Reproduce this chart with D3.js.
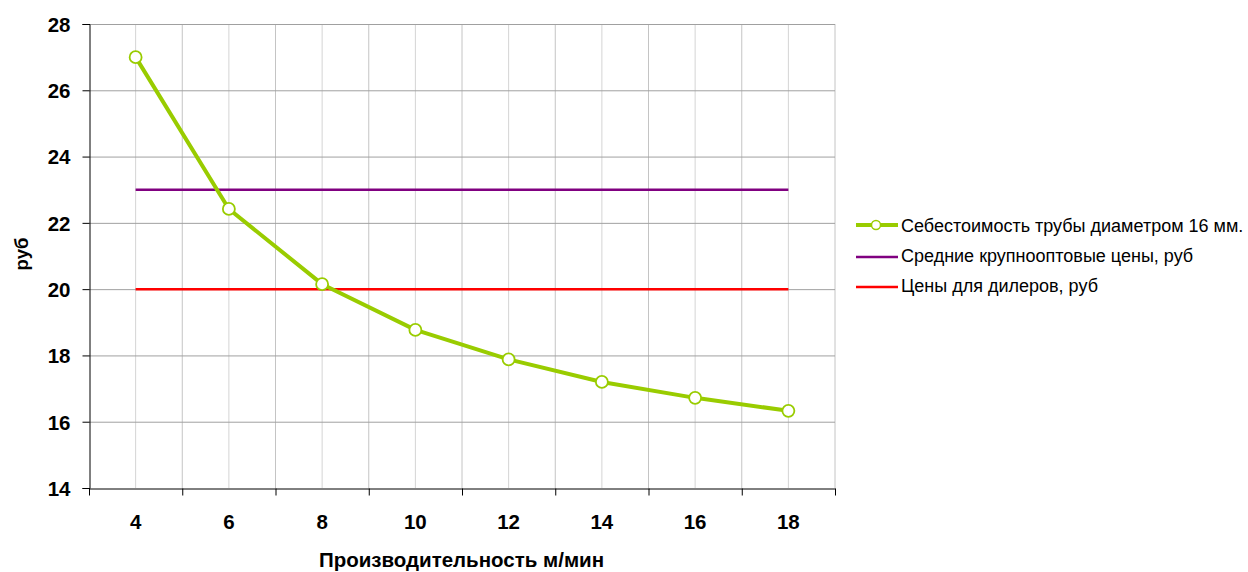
<!DOCTYPE html>
<html>
<head>
<meta charset="utf-8">
<script src="https://cdn.jsdelivr.net/npm/d3@7/dist/d3.min.js"></script>
<style>
  html, body { margin: 0; padding: 0; background: #fff; }
  svg { display: block; font-family: "Liberation Sans", Arial, sans-serif; }
</style>
</head>
<body>
<svg id="chart" width="1248" height="572"></svg>
<script>
// Производительность линии, м/мин
const categories = [4, 6, 8, 10, 12, 14, 16, 18];
// Себестоимость трубы диаметром 16 мм., руб
const costValues = [27.0, 22.42, 20.15, 18.77, 17.88, 17.2, 16.72, 16.33];
// Средние крупнооптовые цены, руб
const wholesaleValues = [23, 23, 23, 23, 23, 23, 23, 23];
// Цены для дилеров, руб
const dealerValues = [20, 20, 20, 20, 20, 20, 20, 20];
const yTicks = [14, 16, 18, 20, 22, 24, 26, 28];

const seriesNames = [
  "Себестоимость трубы диаметром 16 мм.",
  "Средние крупнооптовые цены, руб",
  "Цены для дилеров, руб"
];
const colors = { cost: "#99cc00", wholesale: "#800080", dealer: "#ff0000" };

const svg = d3.select("#chart");
const plot = { left: 89, top: 24, right: 835, bottom: 488 };
const FONT = "Liberation Sans, Arial, sans-serif";

const x = d3.scaleBand().domain(categories).range([plot.left, plot.right]).paddingInner(0).paddingOuter(0);
const cx = d => x(d) + x.bandwidth() / 2;
const bx = d => x(d) + x.bandwidth();
const y = d3.scaleLinear().domain([14, 28]).range([plot.bottom, plot.top]);

// vertical grid: at category centers and boundaries
const g = svg.append("g");
g.selectAll("line.vc").data(categories).join("line")
  .attr("x1", d => cx(d)).attr("x2", d => cx(d))
  .attr("y1", plot.top).attr("y2", plot.bottom)
  .attr("stroke", "#d4d4d4").attr("stroke-width", 1);
g.selectAll("line.vb").data(categories).join("line")
  .attr("x1", d => bx(d)).attr("x2", d => bx(d))
  .attr("y1", plot.top).attr("y2", plot.bottom)
  .attr("stroke", "#c4c4c4").attr("stroke-width", 1);

// horizontal grid
g.selectAll("line.h").data(yTicks.slice(1)).join("line")
  .attr("x1", plot.left).attr("x2", plot.right)
  .attr("y1", d => y(d) + 0.5).attr("y2", d => y(d) + 0.5)
  .attr("stroke", "#a0a0a0").attr("stroke-width", 1);

// y axis
const yAxis = svg.append("g").attr("transform", `translate(${plot.left + 0.5},0)`)
  .call(d3.axisLeft(y).tickValues(yTicks).tickSize(7).tickPadding(12).tickFormat(d3.format("d")));
yAxis.select(".domain").attr("stroke", "#000");
yAxis.selectAll(".tick line").attr("stroke", "#000");
yAxis.selectAll("text").attr("font-size", 20.5).attr("font-weight", "bold").attr("fill", "#000")
  .attr("font-family", FONT).attr("dy", "0.36em");

// x axis
const xAxis = svg.append("g").attr("transform", `translate(0,${plot.bottom + 0.5})`)
  .call(d3.axisBottom(x).tickSize(0).tickPadding(26));
xAxis.select(".domain").attr("stroke", "#000");
xAxis.selectAll("text").attr("font-size", 20.5).attr("font-weight", "bold").attr("fill", "#000")
  .attr("font-family", FONT);
// tick marks on category boundaries
xAxis.selectAll("line.bt").data([plot.left].concat(categories.map(bx))).join("line")
  .attr("class", "bt")
  .attr("x1", d => d + 0.5).attr("x2", d => d + 0.5)
  .attr("y1", 0).attr("y2", 7).attr("stroke", "#000");

// flat price lines
const valueLine = d3.line().x((d, i) => cx(categories[i])).y(d => y(d));
svg.append("path").datum(wholesaleValues).attr("d", valueLine)
  .attr("fill", "none").attr("stroke", colors.wholesale).attr("stroke-width", 2.5);
svg.append("path").datum(dealerValues).attr("d", valueLine)
  .attr("fill", "none").attr("stroke", colors.dealer).attr("stroke-width", 2.5);

// cost curve
svg.append("path").datum(costValues).attr("d", valueLine)
  .attr("fill", "none").attr("stroke", colors.cost).attr("stroke-width", 4).attr("stroke-linejoin", "round");
svg.selectAll("circle.pt").data(costValues).join("circle")
  .attr("class", "pt")
  .attr("cx", (d, i) => cx(categories[i])).attr("cy", d => y(d)).attr("r", 6)
  .attr("fill", "#fff").attr("stroke", colors.cost).attr("stroke-width", 1.8);

// axis titles
svg.append("text").attr("x", 461.5).attr("y", 567).attr("text-anchor", "middle")
  .attr("font-size", 20.5).attr("font-weight", "bold").text("Производительность м/мин");
svg.append("text").attr("transform", "translate(28,254) rotate(-90)").attr("text-anchor", "middle")
  .attr("font-size", 18.5).attr("font-weight", "bold").text("руб");

// legend
const legend = svg.append("g").attr("transform", "translate(856,0)");
const rows = [
  { name: seriesNames[0], color: colors.cost, marker: true, y: 225, base: 231.7 },
  { name: seriesNames[1], color: colors.wholesale, marker: false, y: 257, base: 261.7 },
  { name: seriesNames[2], color: colors.dealer, marker: false, y: 287, base: 291.5 }
];
rows.forEach(r => {
  legend.append("line").attr("x1", 0).attr("x2", 42).attr("y1", r.y).attr("y2", r.y)
    .attr("stroke", r.color).attr("stroke-width", r.marker ? 4 : 2.5);
  if (r.marker) {
    legend.append("circle").attr("cx", 20).attr("cy", r.y).attr("r", 4.5)
      .attr("fill", "#fff").attr("stroke", r.color).attr("stroke-width", 1.5);
  }
  legend.append("text").attr("x", 45).attr("y", r.base).attr("font-size", 18)
    .attr("fill", "#000").text(r.name);
});
</script>
</body>
</html>
